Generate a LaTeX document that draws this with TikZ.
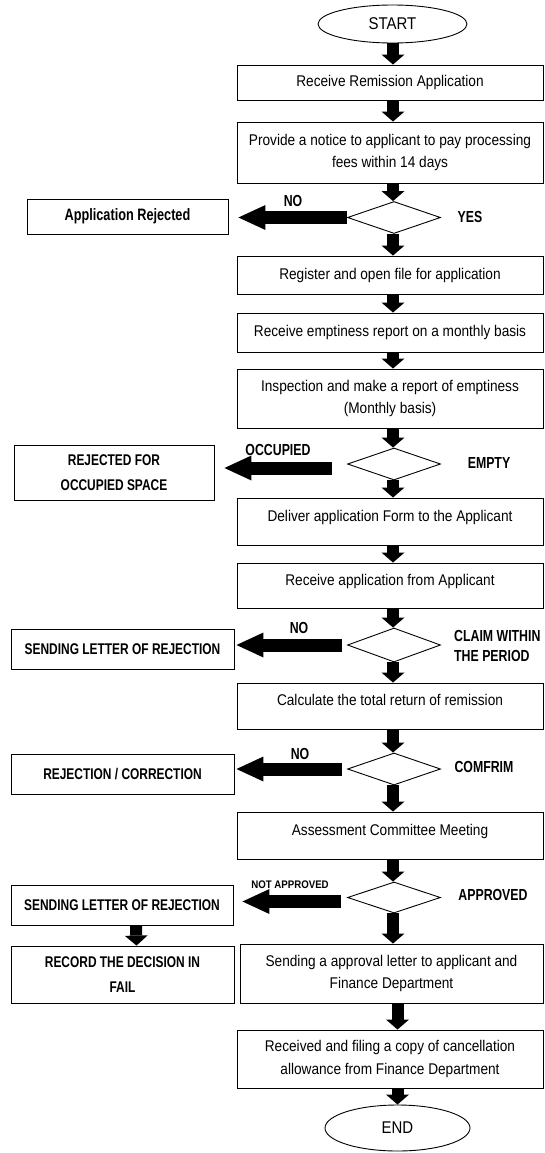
\documentclass[tikz,border=0pt]{standalone}
\usepackage{fontspec}
\setmainfont{Liberation Sans}[FakeStretch=0.88]
\newfontfamily\narrowbold{Liberation Sans}[FakeStretch=0.77]
\usetikzlibrary{arrows.meta,shapes.geometric,calc}

\tikzset{
  procbox/.style={draw, line width=0.9pt, align=center, minimum width=306pt, inner sep=0pt,
    font=\fontsize{15.5}{22.5}\selectfont},
  uptext/.style={text depth=12pt},
  rejbox/.style={draw, line width=0.9pt, align=center, inner sep=0pt,
    font=\narrowbold\bfseries\fontsize{15.5}{25}\selectfont},
  decision/.style={draw, diamond, line width=0.9pt, aspect=2.9, minimum width=93pt,
    minimum height=32pt, inner sep=0pt},
  terminal/.style={draw, ellipse, line width=0.9pt, inner sep=0pt, font=\fontsize{17}{20}\selectfont},
  answer/.style={font=\narrowbold\bfseries\fontsize{16}{20}\selectfont, inner sep=0pt, align=left},
  fatdown/.style={line width=12pt, -{Triangle[length=10pt,width=23pt,line width=0pt]}},
  fatleft/.style={line width=13pt, -{Triangle[length=27pt,width=25pt,line width=0pt]}},
}

\begin{document}
\begin{tikzpicture}[x=1pt, y=-1pt]
  \useasboundingbox (0,0) rectangle (545,1153);
  \coordinate (spine) at (393,0);
  % Main column
  \node[terminal, minimum width=149pt, minimum height=38pt] (start) at (392.5,24) {START};
  \node[procbox, minimum height=35pt] (recv) at (390,82.5) {Receive Remission Application};
  \node[procbox, minimum height=61pt] (notice) at (390,152.5) {Provide a notice to applicant to pay processing\\fees within 14 days};
  \node[decision] (d1) at (394,217.5) {};
  \node[procbox, minimum height=38pt] (reg) at (390,275) {Register and open file for application};
  \node[procbox, minimum height=39pt] (rep) at (390,332.5) {Receive emptiness report on a monthly basis};
  \node[procbox, minimum height=59pt] (insp) at (390,398.5) {Inspection and make a report of emptiness\\(Monthly basis)};
  \node[decision] (d2) at (394,464) {};
  \node[procbox, uptext, minimum height=47pt] (deliv) at (390,521.5) {Deliver application Form to the Applicant};
  \node[procbox, uptext, minimum height=45pt] (rcvapp) at (390,585.5) {Receive application from Applicant};
  \node[decision, minimum height=34pt] (d3) at (394,645) {};
  \node[procbox, uptext, minimum height=46pt] (calc) at (390,706) {Calculate the total return of remission};
  \node[decision] (d4) at (394,769) {};
  \node[procbox, uptext, minimum height=47pt] (assess) at (390,835.5) {Assessment Committee Meeting};
  \node[decision, minimum height=31pt] (d5) at (394,897.5) {};
  \node[procbox, minimum width=303pt, minimum height=59pt] (appr) at (391.5,973.5) {Sending a approval letter to applicant and\\Finance Department};
  \node[procbox, minimum height=58pt] (filing) at (390,1059) {Received and filing a copy of cancellation\\allowance from Finance Department};
  \node[terminal, minimum width=145pt, minimum height=46pt] (fin) at (397.5,1128) {END};

  % Rejection boxes
  \node[rejbox, font=\narrowbold\bfseries\fontsize{16.5}{22}\selectfont, minimum width=201pt, minimum height=35pt] (rej1) at (127.5,216.5) {Application Rejected};
  \node[rejbox, minimum width=200pt, minimum height=55pt] (rej2) at (114,472.5) {REJECTED FOR\\OCCUPIED SPACE};
  \node[rejbox, minimum width=223pt, minimum height=40pt] (rej3) at (122.5,649) {SENDING LETTER OF REJECTION};
  \node[rejbox, minimum width=223pt, minimum height=40pt] (rej4) at (122.5,774) {REJECTION / CORRECTION};
  \node[rejbox, minimum width=222pt, minimum height=40pt] (rej5) at (122,905) {SENDING LETTER OF REJECTION};
  \node[rejbox, minimum width=223pt, minimum height=57pt] (rec) at (122.5,974.5) {RECORD THE DECISION IN\\FAIL};

  % Answers
  \node[answer] (no1) at (293,201) {NO};
  \node[answer] (yes1) at (470,217) {YES};
  \node[answer] (occ) at (278,450) {OCCUPIED};
  \node[answer] (empty) at (489,463) {EMPTY};
  \node[answer] (no3) at (299,628) {NO};
  \node[answer, anchor=west] (claim) at (454,646) {CLAIM WITHIN\\THE PERIOD};
  \node[answer] (no4) at (300,754) {NO};
  \node[answer] (conf) at (484,767) {COMFRIM};
  \node[answer, font=\bfseries\fontsize{11}{12}\selectfont] (napp) at (290,885) {NOT APPROVED};
  \node[answer] (appd) at (493,895) {APPROVED};

  % Down arrows
  \foreach \a/\b in {start/recv, recv/notice, notice/d1, d1/reg, reg/rep, rep/insp, insp/d2,
      d2/deliv, deliv/rcvapp, rcvapp/d3, d3/calc, calc/d4, d4/assess, assess/d5, d5/appr}
    \draw[fatdown] (\a.south -| spine) -- (\b.north -| spine);
  \draw[fatdown] (appr.south -| fin) -- (filing.north -| fin);
  \draw[fatdown] (filing.south -| fin) -- (fin.north);
  \draw[fatdown] ([xshift=14pt]rej5.south) -- ([xshift=14pt]rec.north);

  % Left arrows
  \coordinate (t2) at ($(d2.west)+(0,4)$);
  \coordinate (t5) at ($(d5.west)+(0,4)$);
  \draw[fatleft, shorten >=10pt] (d1.west) -- (d1.west -| rej1.east);
  \draw[fatleft, shorten <=15pt, shorten >=10pt] (t2) -- (t2 -| rej2.east);
  \draw[fatleft, shorten <=5pt, shorten >=2pt] (d3.west) -- (d3.west -| rej3.east);
  \draw[fatleft, shorten <=5pt, shorten >=2pt] (d4.west) -- (d4.west -| rej4.east);
  \draw[fatleft, shorten <=6pt, shorten >=9pt] (t5) -- (t5 -| rej5.east);
\end{tikzpicture}
\end{document}
